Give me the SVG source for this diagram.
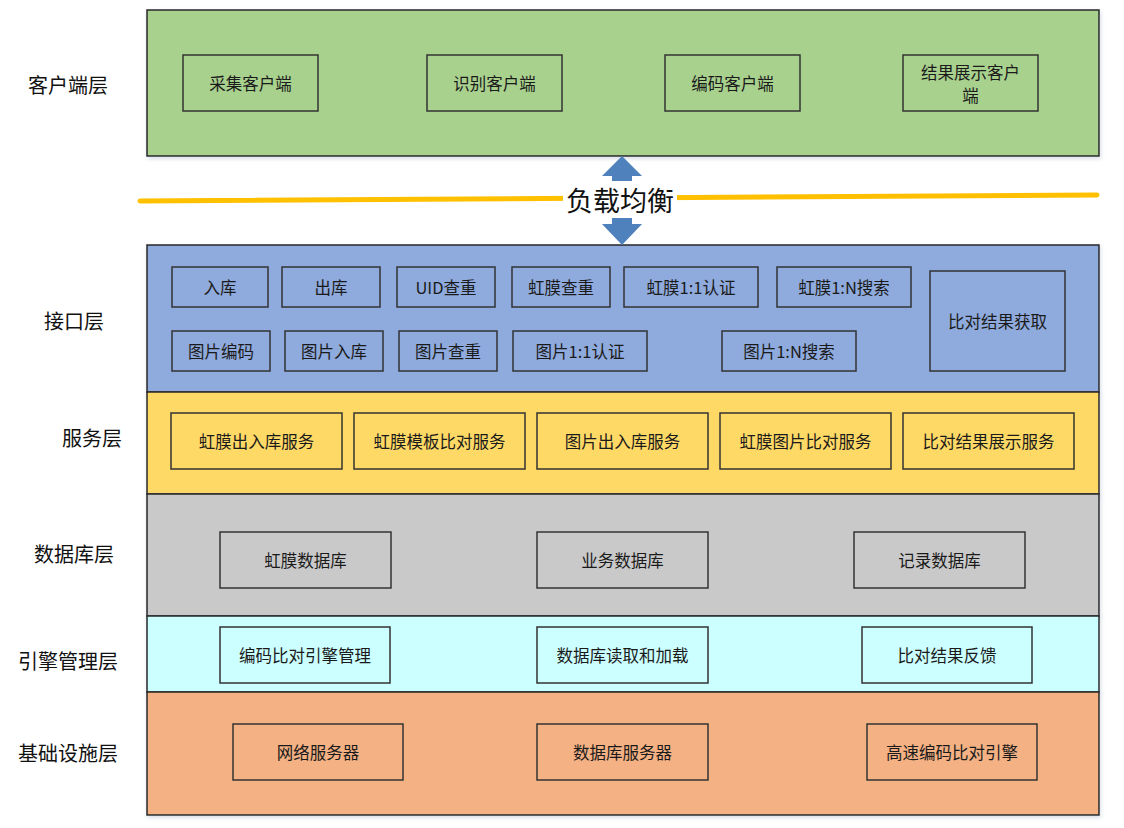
<svg xmlns="http://www.w3.org/2000/svg" width="1124" height="828" viewBox="0 0 1124 828">
<defs>
<filter id="sh" x="-5%" y="-5%" width="110%" height="115%">
<feDropShadow dx="1" dy="2" stdDeviation="2" flood-color="#8a9bb5" flood-opacity="0.35"/>
</filter>
<style>
.layer{stroke:#262626;stroke-width:1.5;filter:url(#sh)}
.box{fill:none;stroke:#333333;stroke-width:1.5}
.t{font-family:"Noto Sans CJK SC","Liberation Sans",sans-serif;font-size:16.5px;fill:#1a1a1a;text-anchor:middle;dominant-baseline:central}
.lbl{font-family:"Noto Sans CJK SC","Liberation Sans",sans-serif;font-size:20px;fill:#111;text-anchor:middle;dominant-baseline:central}
</style>
</defs>
<rect width="1124" height="828" fill="#ffffff"/>

<!-- layer backgrounds -->
<g id="layers">
<rect class="layer" x="147" y="10" width="952" height="146" fill="#a9d18e"/>
<rect class="layer" x="147" y="245" width="952" height="147" fill="#8faadc"/>
<rect class="layer" x="147" y="392" width="952" height="102" fill="#ffd966"/>
<rect class="layer" x="147" y="494" width="952" height="122" fill="#c9c9c9"/>
<rect class="layer" x="147" y="616" width="952" height="76" fill="#ccffff"/>
<rect class="layer" x="147" y="692" width="952" height="123" fill="#f4b183"/>
</g>

<g id="labels">
<text class="lbl" x="68" y="84">客户端层</text>
<text class="lbl" x="74" y="320">接口层</text>
<text class="lbl" x="92" y="437">服务层</text>
<text class="lbl" x="74" y="553">数据库层</text>
<text class="lbl" x="68" y="660">引擎管理层</text>
<text class="lbl" x="68" y="752">基础设施层</text>
</g>

<!-- client layer -->
<g id="n-caiji"><rect class="box" x="183" y="55" width="135" height="56"/><text class="t" x="250.5" y="83">采集客户端</text></g>
<g id="n-shibie"><rect class="box" x="427" y="55" width="135" height="56"/><text class="t" x="494.5" y="83">识别客户端</text></g>
<g id="n-bianma"><rect class="box" x="665" y="55" width="135" height="56"/><text class="t" x="732.5" y="83">编码客户端</text></g>
<g id="n-jieguo"><rect class="box" x="903" y="55" width="135" height="56"/><text class="t" x="970.5" y="72">结果展示客户</text><text class="t" x="970.5" y="95">端</text></g>

<!-- load balance -->
<g id="connectors">
<line x1="140" y1="201" x2="1097" y2="195" stroke="#ffc000" stroke-width="5" stroke-linecap="round"/>
<polygon points="622,156 642,176 632,176 632,181 612,181 612,176 602,176" fill="#4f81bd"/>
<polygon points="612,218 632,218 632,224 642,224 622,245 602,224 612,224" fill="#4f81bd"/>
</g>
<g id="n-fuzai">
<rect x="563" y="181" width="114" height="36" fill="#ffffff"/>
<text x="620" y="199" font-family="Noto Sans CJK SC,Liberation Sans,sans-serif" font-size="27" fill="#111" text-anchor="middle" dominant-baseline="central">负载均衡</text>
</g>

<!-- interface layer -->
<g id="n-ruku"><rect class="box" x="172" y="267" width="96" height="40"/><text class="t" x="220" y="287">入库</text></g>
<g id="n-chuku"><rect class="box" x="282" y="267" width="98" height="40"/><text class="t" x="331" y="287">出库</text></g>
<g id="n-uid"><rect class="box" x="397" y="267" width="98" height="40"/><text class="t" x="446" y="287">UID查重</text></g>
<g id="n-hmcc"><rect class="box" x="512" y="267" width="98" height="40"/><text class="t" x="561" y="287">虹膜查重</text></g>
<g id="n-hm11"><rect class="box" x="624" y="267" width="134" height="40"/><text class="t" x="691" y="287">虹膜1:1认证</text></g>
<g id="n-hm1n"><rect class="box" x="777" y="267" width="134" height="40"/><text class="t" x="844" y="287">虹膜1:N搜索</text></g>
<g id="n-tpbm"><rect class="box" x="172" y="331" width="98" height="40"/><text class="t" x="221" y="351">图片编码</text></g>
<g id="n-tprk"><rect class="box" x="285" y="331" width="98" height="40"/><text class="t" x="334" y="351">图片入库</text></g>
<g id="n-tpcc"><rect class="box" x="399" y="331" width="98" height="40"/><text class="t" x="448" y="351">图片查重</text></g>
<g id="n-tp11"><rect class="box" x="513" y="331" width="134" height="40"/><text class="t" x="580" y="351">图片1:1认证</text></g>
<g id="n-tp1n"><rect class="box" x="722" y="331" width="134" height="40"/><text class="t" x="789" y="351">图片1:N搜索</text></g>
<g id="n-bdhq"><rect class="box" x="930" y="271" width="135" height="100"/><text class="t" x="997.5" y="321">比对结果获取</text></g>

<!-- service layer -->
<g id="n-s1"><rect class="box" x="171" y="413" width="171" height="56"/><text class="t" x="256.5" y="441">虹膜出入库服务</text></g>
<g id="n-s2"><rect class="box" x="354" y="413" width="171" height="56"/><text class="t" x="439.5" y="441">虹膜模板比对服务</text></g>
<g id="n-s3"><rect class="box" x="537" y="413" width="171" height="56"/><text class="t" x="622.5" y="441">图片出入库服务</text></g>
<g id="n-s4"><rect class="box" x="720" y="413" width="171" height="56"/><text class="t" x="805.5" y="441">虹膜图片比对服务</text></g>
<g id="n-s5"><rect class="box" x="903" y="413" width="171" height="56"/><text class="t" x="988.5" y="441">比对结果展示服务</text></g>

<!-- database layer -->
<g id="n-d1"><rect class="box" x="220" y="532" width="171" height="56"/><text class="t" x="305.5" y="560">虹膜数据库</text></g>
<g id="n-d2"><rect class="box" x="537" y="532" width="171" height="56"/><text class="t" x="622.5" y="560">业务数据库</text></g>
<g id="n-d3"><rect class="box" x="854" y="532" width="171" height="56"/><text class="t" x="939.5" y="560">记录数据库</text></g>

<!-- engine layer -->
<g id="n-e1"><rect class="box" x="220" y="627" width="170" height="56"/><text class="t" x="305" y="655">编码比对引擎管理</text></g>
<g id="n-e2"><rect class="box" x="537" y="627" width="171" height="56"/><text class="t" x="622.5" y="655">数据库读取和加载</text></g>
<g id="n-e3"><rect class="box" x="862" y="627" width="170" height="56"/><text class="t" x="947" y="655">比对结果反馈</text></g>

<!-- infrastructure layer -->
<g id="n-i1"><rect class="box" x="233" y="724" width="170" height="56"/><text class="t" x="318" y="752">网络服务器</text></g>
<g id="n-i2"><rect class="box" x="537" y="724" width="171" height="56"/><text class="t" x="622.5" y="752">数据库服务器</text></g>
<g id="n-i3"><rect class="box" x="867" y="724" width="170" height="56"/><text class="t" x="952" y="752">高速编码比对引擎</text></g>
</svg>
